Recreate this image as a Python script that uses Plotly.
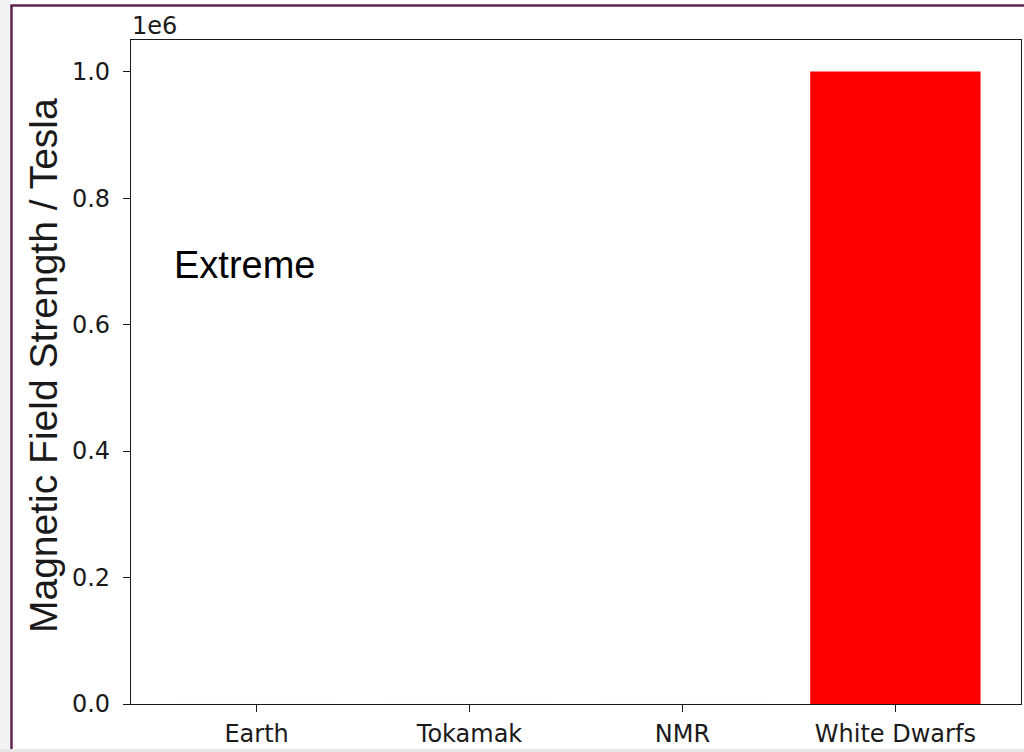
import plotly.graph_objects as go

# Field strengths in tesla
sources = ["Earth", "Tokamak", "NMR", "White Dwarfs"]
field_tesla = [0.00005, 13, 23.5, 1000000]
bar_colors = ["red", "red", "red", "red"]

y_tick_vals = [0, 200000, 400000, 600000, 800000, 1000000]
y_tick_text = ["0.0", "0.2", "0.4", "0.6", "0.8", "1.0"]
offset_label = "1e6"
panel_label = "Extreme"
y_title = "Magnetic Field Strength / Tesla"

W, H = 1024, 752
L, R, T, B = 131, 1021, 40, 704


def px_x(px):
    return (px - L) / (R - L)


def px_y(py):
    return (B - py) / (B - T)


tick_font = dict(family="DejaVu Sans", size=24, color="#1a1a1a")

fig = go.Figure(
    go.Bar(
        x=list(range(len(sources))),
        y=field_tesla,
        width=0.8,
        # a hairline outline makes plotly round bar edges to whole pixels,
        # so sub-pixel bars stay at their true (invisible) height
        marker=dict(color=bar_colors, line=dict(width=0.02, color="red")),
    )
)

axis_common = dict(
    ticks="outside",
    ticklen=7,
    tickwidth=1.2,
    tickcolor="#1a1a1a",
    showline=True,
    linecolor="#1a1a1a",
    linewidth=1.3,
    mirror=True,
    showgrid=False,
    zeroline=False,
    tickfont=tick_font,
    automargin=False,
)

fig.update_layout(
    width=W,
    height=H,
    margin=dict(l=L, r=W - R, t=T, b=H - B, pad=0),
    paper_bgcolor="white",
    plot_bgcolor="white",
    showlegend=False,
    xaxis=dict(
        range=[-0.59, 3.59],
        tickvals=list(range(len(sources))),
        ticktext=sources,
        ticklabelstandoff=1,
        **axis_common,
    ),
    yaxis=dict(
        range=[0, 1050000],
        tickvals=y_tick_vals,
        ticktext=y_tick_text,
        ticklabelstandoff=8,
        **axis_common,
    ),
)

# Frame around the figure
border = "#5e2450"
fig.add_shape(type="rect", xref="paper", yref="paper",
              x0=px_x(0), x1=px_x(11), y0=px_y(H), y1=px_y(0),
              fillcolor="#f3f3f3", line=dict(width=0), layer="below")
fig.add_shape(type="rect", xref="paper", yref="paper",
              x0=px_x(0), x1=px_x(W), y0=px_y(H), y1=px_y(749),
              fillcolor="#e6e6e6", line=dict(width=0), layer="below")
fig.add_shape(type="line", xref="paper", yref="paper",
              x0=px_x(11.5), x1=px_x(11.5), y0=px_y(749), y1=px_y(5),
              line=dict(color=border, width=2.5))
fig.add_shape(type="line", xref="paper", yref="paper",
              x0=px_x(10.5), x1=px_x(W + 5), y0=px_y(5.5), y1=px_y(5.5),
              line=dict(color=border, width=2.5))

fig.add_annotation(text=offset_label, xref="paper", yref="paper",
                   x=px_x(130), y=px_y(42), xanchor="left", yanchor="bottom",
                   showarrow=False, font=tick_font)
fig.add_annotation(text=panel_label, xref="paper", yref="paper",
                   x=px_x(172), y=px_y(265), xanchor="left", yanchor="middle",
                   showarrow=False,
                   font=dict(family="Liberation Sans", size=38, color="black"))
fig.add_annotation(text=y_title, xref="paper", yref="paper",
                   x=px_x(43), y=px_y(366), xanchor="center", yanchor="middle",
                   textangle=-90, showarrow=False,
                   font=dict(family="Liberation Sans", size=39, color="#1a1a1a"))

fig.write_html("out.html")
